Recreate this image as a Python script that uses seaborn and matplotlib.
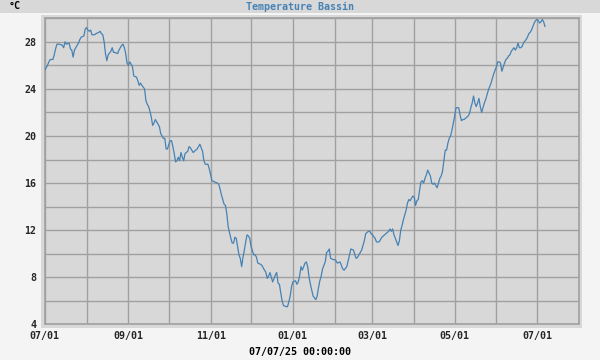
"""Recreate the yearly pool temperature chart (Temperature Bassin)."""
#####################################
# Imports At the Top
#####################################

import matplotlib

matplotlib.use("Agg")
import matplotlib.dates as mdates
import matplotlib.pyplot as plt
import matplotlib.ticker as mticker
import pandas as pd
import seaborn as sns
from matplotlib.patches import Rectangle

#####################################
# Data
#####################################

START = "2024-07-01"

# day offset from START, one reading per entry
days = [
    0, 2, 3, 4, 6, 7, 8, 9, 11, 13, 14, 15, 16, 18, 19, 20, 21, 22, 24, 25,
    26, 27, 29, 30, 31, 32, 33, 34, 35, 37, 38, 40, 41, 42, 43, 44, 45, 46, 47, 49,
    50, 51, 52, 54, 55, 56, 57, 58, 59, 60, 61, 62, 63, 64, 65, 66, 68, 69, 70, 71,
    72, 74, 75, 76, 77, 78, 79, 80, 81, 82, 83, 85, 86, 87, 88, 89, 90, 91, 92, 93,
    94, 95, 96, 97, 98, 99, 100, 101, 102, 103, 104, 106, 107, 108, 110, 111, 113, 114, 115, 117,
    118, 119, 121, 122, 123, 124, 126, 128, 129, 130, 131, 133, 134, 135, 136, 137, 138, 139, 140, 141,
    142, 143, 144, 145, 146, 147, 148, 149, 150, 151, 152, 153, 155, 156, 157, 158, 160, 161, 162, 164,
    165, 166, 167, 168, 169, 171, 172, 173, 174, 175, 176, 177, 179, 180, 181, 182, 183,
    184, 186, 187, 188, 189, 190, 191, 192, 193, 194, 195, 196, 197, 198, 199, 201, 202, 203, 204, 205,
    206, 208, 209, 210, 211, 212, 214, 215, 216, 217, 219, 220, 221, 222, 224, 225, 226, 227, 229, 230,
    231, 232, 233, 234, 235, 236, 237, 238, 240, 241, 242, 243, 245, 246, 247, 248, 250, 251, 252, 253,
    255, 256, 257, 258, 259, 260, 261, 262, 263, 264, 265, 266, 267, 268, 269, 270, 271, 272, 273, 274,
    275, 276, 277, 278, 279, 280,
    281, 282, 283, 284, 286, 287, 288, 289, 291, 292, 293, 294, 295, 296, 297, 298, 299, 300, 301, 302,
    303, 304, 305, 306, 307, 308, 309, 310, 311, 312, 314, 315, 316, 317, 318, 319, 320, 321, 322, 323,
    324, 325, 326, 327, 328, 329, 330, 331, 332, 333, 334, 335, 336, 337, 338, 339, 341, 342, 343, 344,
    345, 346, 348, 349, 350, 351, 352, 353, 354, 355, 357, 358, 359, 360, 361, 362, 363, 364, 365, 366,
    367, 368, 369, 370, 371,
]

# pool temperature in degC
temps = [
    25.6, 26.0, 26.3, 26.5, 26.5, 26.9, 27.4, 27.8, 27.8, 27.7, 27.5, 28.0, 27.8, 27.9, 27.4, 27.3, 26.7, 27.3, 27.7, 27.9,
    28.2, 28.4, 28.5, 29.1, 29.2, 29.0, 28.9, 29.0, 28.6, 28.6, 28.7, 28.8, 28.9, 28.7, 28.6, 28.0, 27.0, 26.4, 26.9, 27.2,
    27.5, 27.1, 27.1, 27.0, 27.3, 27.5, 27.7, 27.8, 27.5, 27.0, 26.2, 26.0, 26.3, 26.1, 25.9, 25.1, 25.0, 24.7, 24.3, 24.5,
    24.3, 24.0, 23.0, 22.7, 22.5, 22.1, 21.6, 20.9, 21.1, 21.4, 21.2, 20.8, 20.2, 20.0, 19.8, 19.8, 18.9, 18.9, 19.3, 19.6,
    19.6, 19.1, 18.5, 17.8, 17.9, 18.2, 17.9, 18.6, 18.2, 17.9, 18.5, 18.7, 19.1, 19.0, 18.6, 18.7, 18.9, 19.1, 19.3, 18.7,
    17.9, 17.6, 17.6, 17.2, 16.7, 16.2, 16.1, 16.0, 15.9, 15.5, 15.0, 14.2, 14.1, 13.4, 12.3, 11.8, 11.3, 10.9, 10.9, 11.4,
    11.3, 10.6, 9.9, 9.6, 8.9, 9.7, 10.3, 11.0, 11.6, 11.5, 11.3, 10.6, 9.9, 9.9, 9.7, 9.2, 9.1, 9.0, 8.8, 8.4,
    7.9, 8.1, 8.4, 8.0, 7.6, 8.2, 8.4, 7.5, 7.4, 6.7, 6.0, 5.6, 5.5, 5.5, 5.9, 6.4, 7.2,
    7.6, 7.7, 7.4, 7.6, 8.1, 8.9, 8.6, 8.9, 9.2, 9.3, 8.9, 8.0, 7.4, 6.9, 6.4, 6.1, 6.4, 7.1, 7.7, 8.1,
    8.7, 9.3, 10.1, 10.2, 10.4, 9.6, 9.5, 9.5, 9.4, 9.2, 9.3, 9.0, 8.7, 8.6, 8.9, 9.4, 9.9, 10.4, 10.3, 9.9,
    9.6, 9.7, 9.9, 10.1, 10.3, 10.7, 11.1, 11.7, 11.9, 11.9, 11.7, 11.6, 11.3, 11.0, 11.0, 11.0, 11.4, 11.5, 11.6, 11.7,
    11.9, 12.1, 11.9, 12.1, 11.6, 11.3, 11.0, 10.7, 11.1, 12.0, 12.4, 12.9, 13.3, 13.7, 14.3, 14.6, 14.5, 14.7, 14.9, 14.8,
    14.1, 14.5, 14.6, 15.4, 16.1, 16.2,
    16.0, 16.4, 16.7, 17.1, 16.6, 16.0, 15.9, 16.0, 15.6, 16.0, 16.4, 16.6, 17.0, 17.9, 18.8, 18.8, 19.4, 19.8, 20.0, 20.5,
    21.1, 21.7, 22.4, 22.4, 22.4, 21.8, 21.3, 21.4, 21.4, 21.5, 21.7, 21.9, 22.4, 22.8, 23.4, 22.8, 22.5, 22.8, 23.2, 22.5,
    22.0, 22.4, 22.8, 23.1, 23.5, 23.9, 24.2, 24.5, 24.9, 25.3, 25.6, 25.9, 26.3, 26.3, 26.2, 25.5, 26.2, 26.5, 26.6, 26.8,
    26.9, 27.2, 27.5, 27.3, 27.5, 27.9, 27.5, 27.5, 27.6, 27.9, 28.2, 28.4, 28.7, 28.8, 29.0, 29.3, 29.6, 29.8, 29.9, 29.8,
    29.6, 29.7, 29.9, 29.7, 29.3,
]

TITLE = "Temperature Bassin"
UNIT = "°C"
STAMP = "07/07/25 00:00:00"

#####################################
# Define Functions
#####################################


def px(x, y):
    """Convert top-left pixel coordinates to figure fractions."""
    return x / 600, 1 - y / 360


def make_chart() -> None:
    """Draw the chart and save it as out.png."""
    sns.set_style("white")
    plt.rcParams["font.family"] = ["DejaVu Sans Mono", "DejaVu Sans"]

    bg = "#f4f4f4"
    panel = "#d8d8d8"
    grid = "#a0a0a0"
    blue = "#4682b4"

    df = pd.DataFrame(
        {
            "date": pd.Timestamp(START) + pd.to_timedelta(days, unit="D"),
            "temp": temps,
        }
    )

    fig = plt.figure(figsize=(6, 3.6), dpi=100, facecolor=bg)

    # header band and panel surround, kept behind the axes
    fig.patches.append(
        Rectangle(px(0, 13), 1, 13 / 360, transform=fig.transFigure,
                  facecolor=panel, edgecolor="none", zorder=-5)
    )
    fig.patches.append(
        Rectangle(px(41, 328), 541 / 600, 313 / 360, transform=fig.transFigure,
                  facecolor=panel, edgecolor="none", zorder=-5)
    )

    x0, y0 = px(44.8, 324.3)
    x1, y1 = px(578.7, 18.3)
    ax = fig.add_axes([x0, y0, x1 - x0, y1 - y0])
    ax.set_facecolor(panel)

    sns.lineplot(data=df, x="date", y="temp", ax=ax, color=blue,
                 linewidth=0.9, zorder=3)

    ax.set_xlim(pd.Timestamp("2024-07-01"), pd.Timestamp("2025-08-01"))
    ax.set_ylim(4, 30)

    ax.xaxis.set_major_locator(mdates.MonthLocator(bymonth=[1, 3, 5, 7, 9, 11]))
    ax.xaxis.set_minor_locator(mdates.MonthLocator())
    ax.xaxis.set_major_formatter(mdates.DateFormatter("%m/%d"))
    ax.yaxis.set_major_locator(mticker.MultipleLocator(4))
    ax.yaxis.set_minor_locator(mticker.MultipleLocator(2))

    ax.grid(True, which="both", color=grid, linewidth=1.0)
    ax.set_axisbelow(True)
    for spine in ax.spines.values():
        spine.set_color(grid)
        spine.set_linewidth(1.2)

    ax.tick_params(which="both", length=0)
    ax.tick_params(axis="x", pad=5, labelsize=7.2)
    ax.tick_params(axis="y", pad=6, labelsize=7.2)
    for lab in ax.get_xticklabels() + ax.get_yticklabels():
        lab.set_fontweight("bold")
    ax.set_xlabel("")
    ax.set_ylabel("")

    fig.text(*px(300, 6.5), TITLE, color=blue, fontsize=7.2, fontweight="bold",
             ha="center", va="center")
    fig.text(*px(9, 6), UNIT, color="black", fontsize=7.2, fontweight="bold",
             ha="left", va="center")
    fig.text(*px(300, 352), STAMP, color="black", fontsize=7.2, fontweight="bold",
             ha="center", va="center")

    fig.savefig("out.png", dpi=100, facecolor=bg)
    plt.close(fig)


#####################################
# Define main()
#####################################


def main() -> None:
    """Build the chart."""
    make_chart()


if __name__ == "__main__":
    main()
